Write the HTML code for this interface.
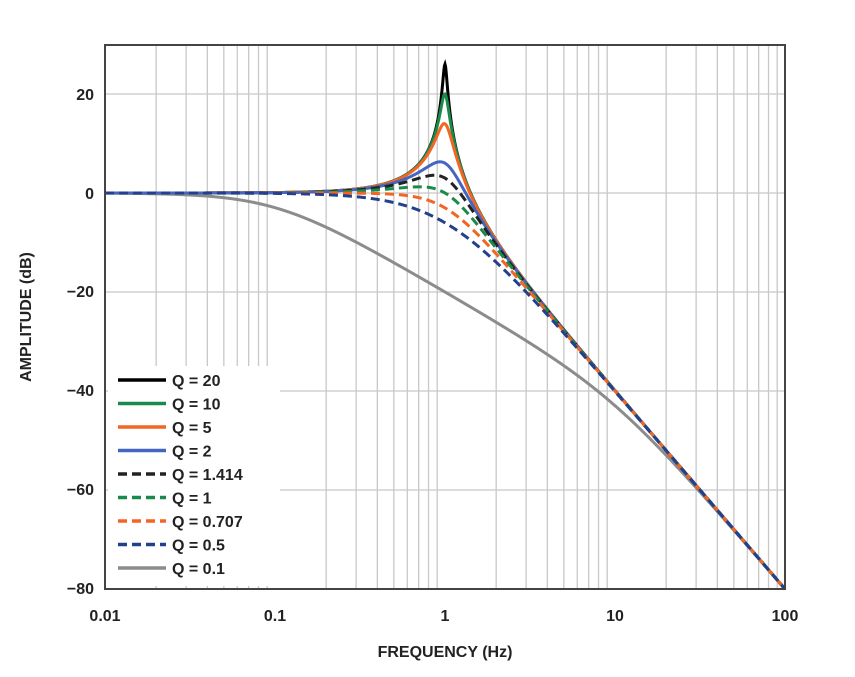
<!DOCTYPE html>
<html><head><meta charset="utf-8"><style>
body{margin:0;background:#fff;}
svg{display:block;font-family:"Liberation Sans",Arial,sans-serif;font-weight:bold;}
</style></head><body>
<svg id="s" width="855" height="677" viewBox="0 0 855 677" xmlns="http://www.w3.org/2000/svg">
<g id="grid"></g>
<g id="curves"></g>
<rect x="108" y="366" width="172" height="220" fill="#fff"/>
<g id="legend" font-size="16" fill="#222"></g>
<rect x="105" y="45" width="680" height="544" fill="none" stroke="#444" stroke-width="2"/>
<g font-size="16" fill="#222" text-anchor="end">
<text x="94" y="100">20</text><text x="94" y="199">0</text><text x="94" y="297">−20</text>
<text x="94" y="396">−40</text><text x="94" y="495">−60</text><text x="94" y="594">−80</text>
</g>
<g font-size="16" fill="#222" text-anchor="middle">
<text x="105" y="621">0.01</text><text x="275" y="621">0.1</text><text x="445" y="621">1</text>
<text x="615" y="621">10</text><text x="785" y="621">100</text>
<text x="445" y="657">FREQUENCY (Hz)</text>
</g>
<text font-size="16" fill="#222" text-anchor="middle" transform="translate(31,317) rotate(-90)">AMPLITUDE (dB)</text>
</svg>
<script>
function X(f){return 105+170*(Math.log10(f)+2);}
function Y(d){return 193-4.95*d;}
var g=document.getElementById('grid'),h='';
for(var e=-2;e<2;e++)for(var k=2;k<10;k++){var x=X(k*Math.pow(10,e));h+='<line x1="'+x+'" y1="45" x2="'+x+'" y2="589" stroke="#c8c8c8" stroke-width="1.3"/>';}
for(var d=20;d>=-60;d-=20){h+='<line x1="105" y1="'+Y(d)+'" x2="785" y2="'+Y(d)+'" stroke="#c8c8c8" stroke-width="1.3"/>';}
g.innerHTML=h;
var S=[[20,'#000',0],[10,'#1a8a4a',0],[5,'#f26522',0],[2,'#4466c0',0],[1.414,'#222',1],[1,'#1a8a4a',1],[0.707,'#f26522',1],[0.5,'#23408e',1],[0.1,'#8c8c8c',0]];
var c='',l='';
var order=[8,0,1,2,3,4,5,6,7];
order.forEach(function(i){var s=S[i];var p='';
for(var j=0;j<=1200;j++){var f=Math.pow(10,-2+4*j/1200);var re=1-f*f,im=f/s[0];var db=-10*Math.log10(re*re+im*im);if(db>30)db=30;p+=(j?'L':'M')+X(f).toFixed(2)+' '+Y(db).toFixed(2);}
c+='<path d="'+p+'" fill="none" stroke="'+s[1]+'" stroke-width="3"'+(s[2]?' stroke-dasharray="9 5"':'')+'/>';});
document.getElementById('curves').innerHTML=c;
S.forEach(function(s,i){var y=380+23.5*i;l+='<line x1="118" y1="'+y+'" x2="166" y2="'+y+'" stroke="'+s[1]+'" stroke-width="3.5"'+(s[2]?' stroke-dasharray="9 5"':'')+'/><text x="172" y="'+(y+6)+'">Q = '+s[0]+'</text>';});
document.getElementById('legend').innerHTML=l;
</script>
</body></html>
